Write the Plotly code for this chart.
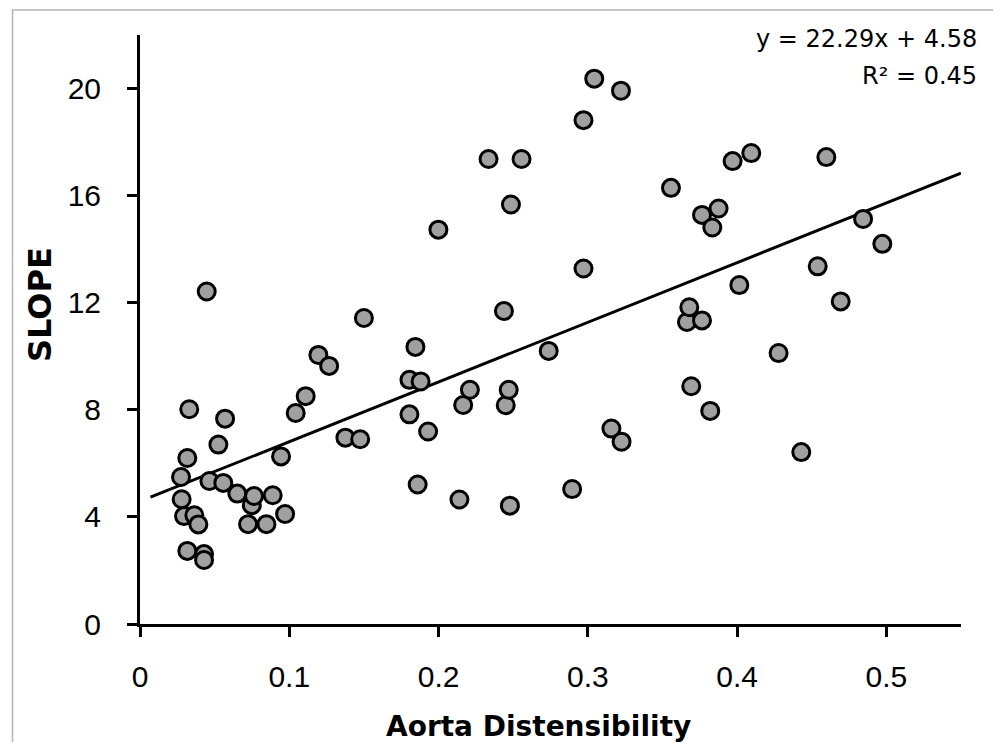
import plotly.graph_objects as go

# data
aorta_dist = [0.0275, 0.0279, 0.0295, 0.0317, 0.0330, 0.0317, 0.0364, 0.0391, 0.0429, 0.0429,
              0.0447, 0.0465, 0.0525, 0.0558, 0.0570, 0.0652, 0.0724, 0.0749, 0.0764, 0.0847,
              0.0889, 0.0945, 0.0972, 0.1043, 0.1110, 0.1195, 0.1267, 0.1376, 0.1475, 0.1500,
              0.1805, 0.1805, 0.1845, 0.1860, 0.1880, 0.1930, 0.1999, 0.2140, 0.2165, 0.2210,
              0.2335, 0.2438, 0.2450, 0.2470, 0.2478, 0.2485, 0.2556, 0.2738, 0.2895, 0.2971,
              0.2971, 0.3043, 0.3158, 0.3222, 0.3226, 0.3557, 0.3664, 0.3680, 0.3693, 0.3765,
              0.3765, 0.3820, 0.3834, 0.3876, 0.3970, 0.4015, 0.4095, 0.4278, 0.4430, 0.4540,
              0.4598, 0.4694, 0.4844, 0.4973]
slope_vals = [5.49, 4.66, 4.03, 6.20, 8.02, 2.73, 4.06, 3.72, 2.61, 2.39,
              12.42, 5.34, 6.70, 5.27, 7.67, 4.87, 3.73, 4.44, 4.78, 3.73,
              4.81, 6.26, 4.11, 7.88, 8.51, 10.05, 9.64, 6.96, 6.90, 11.43,
              9.12, 7.83, 10.35, 5.21, 9.06, 7.19, 14.73, 4.65, 8.18, 8.75,
              17.37, 11.69, 8.17, 8.75, 4.42, 15.67, 17.37, 10.20, 5.04, 18.82,
              13.28, 20.37, 7.30, 19.92, 6.81, 16.29, 11.28, 11.83, 8.88, 15.28,
              11.34, 7.96, 14.81, 15.52, 17.29, 12.66, 17.59, 10.12, 6.42, 13.36,
              17.44, 12.05, 15.13, 14.20]

fit_slope = 22.29
fit_intercept = 4.58
fit_r2 = 0.45
fit_x_range = [0.007, 0.55]

x_ticks = [0, 0.1, 0.2, 0.3, 0.4, 0.5]
x_tick_labels = ["0", "0.1", "0.2", "0.3", "0.4", "0.5"]
y_ticks = [0, 4, 8, 12, 16, 20]
y_tick_labels = ["0", "4", "8", "12", "16", "20"]

# the page puts the figure 8px in from the corner
OFF = 8
W, H = 1001 - OFF, 742 - OFF
# plot area in window pixels
L, R, T, B = 140, 961, 35, 624

def px(xp):
    return (xp - L) / (R - L)

def py(yp):
    return (B - yp) / (B - T)

fig = go.Figure()

fit_y = [fit_slope * x + fit_intercept for x in fit_x_range]
fig.add_trace(go.Scatter(x=fit_x_range, y=fit_y, mode='lines',
                         line=dict(color='black', width=3), showlegend=False, hoverinfo='skip'))

fig.add_trace(go.Scatter(x=aorta_dist, y=slope_vals, mode='markers',
                         marker=dict(size=17, color='#a0a0a0', line=dict(color='black', width=3)),
                         showlegend=False))

tick_font = dict(family='Liberation Sans', size=30, color='black')

fig.update_layout(
    width=W, height=H, autosize=False,
    margin=dict(l=L - OFF, r=1001 - R, t=T - OFF, b=742 - B),
    paper_bgcolor='white', plot_bgcolor='white',
    xaxis=dict(range=[0, 0.55], showgrid=False, zeroline=False,
               showline=True, linecolor='black', linewidth=3,
               ticks='outside', ticklen=10, tickwidth=3, tickcolor='black',
               tickvals=x_ticks, ticktext=x_tick_labels, tickfont=tick_font,
               ticklabelstandoff=14),
    yaxis=dict(range=[0, 22], showgrid=False, zeroline=False,
               showline=True, linecolor='black', linewidth=3,
               ticks='outside', ticklen=10, tickwidth=3, tickcolor='black',
               tickvals=y_ticks, ticktext=y_tick_labels, tickfont=tick_font,
               ticklabelstandoff=20),
    shapes=[dict(type='rect', xref='paper', yref='paper',
                 x0=px(12.5), x1=px(997), y0=py(760), y1=py(10),
                 line=dict(color='#b4b4b4', width=1.5), layer='below')],
    annotations=[
        dict(text=f"y = {fit_slope:.2f}x + {fit_intercept:.2f}", xref='paper', yref='paper',
             x=px(979), y=py(39), xanchor='right', yanchor='middle', showarrow=False,
             font=dict(family='DejaVu Sans', size=24, color='black')),
        dict(text=f"R² = {fit_r2:.2f}", xref='paper', yref='paper',
             x=px(979), y=py(76), xanchor='right', yanchor='middle', showarrow=False,
             font=dict(family='DejaVu Sans', size=24, color='black')),
        dict(text="<b>SLOPE</b>", xref='paper', yref='paper',
             x=px(40), y=py(305), xanchor='center', yanchor='middle', textangle=-90,
             showarrow=False, font=dict(family='DejaVu Sans', size=32, color='black')),
        dict(text="<b>Aorta Distensibility</b>", xref='paper', yref='paper',
             x=px(538), y=py(726), xanchor='center', yanchor='middle',
             showarrow=False, font=dict(family='DejaVu Sans', size=28, color='black')),
    ],
)

fig.write_html("out.html")
